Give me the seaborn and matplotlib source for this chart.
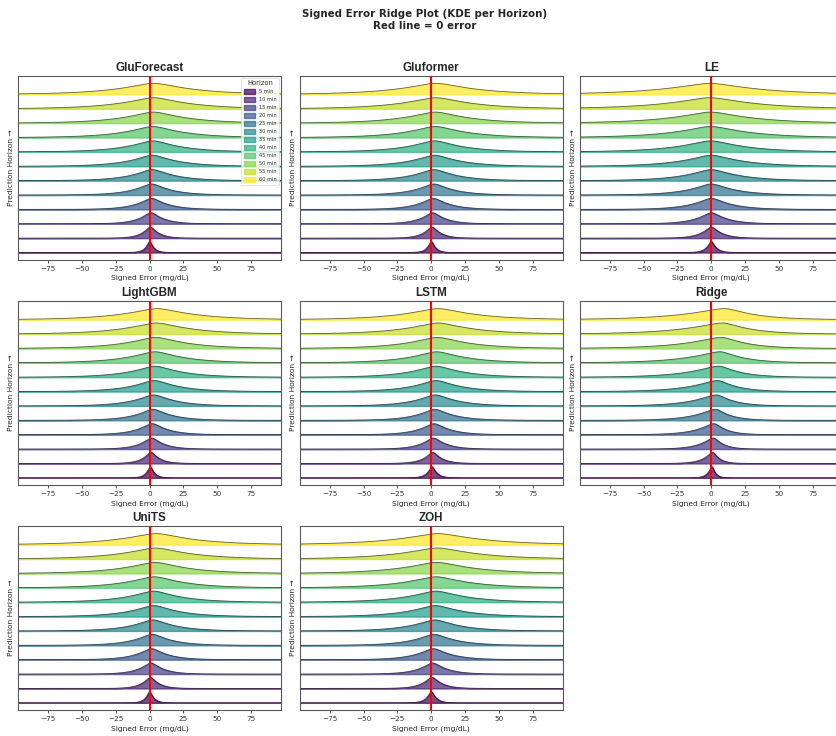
import numpy as np
import pandas as pd
import matplotlib
matplotlib.use("Agg")
import matplotlib.pyplot as plt
import seaborn as sns

# ---------------- data ----------------
models = ["GluForecast", "Gluformer", "LE", "LightGBM", "LSTM", "Ridge", "UniTS", "ZOH"]
horizons = [5, 10, 15, 20, 25, 30, 35, 40, 45, 50, 55, 60]

# peak location of each horizon's error density (mg/dL)
gluforecast_loc = [0, 0.5, 1, 1.5, 1.5, 2, 2, 2.5, 2.5, 3, 3, 3]
gluformer_loc = [0, 0.5, 1, 1.5, 2, 2, 2.5, 2.5, 3, 3, 3.5, 3.5]
le_loc = [0, 0, 0, 0, 0, 0, 0, -0.5, -0.5, -0.5, -1, -1]
lightgbm_loc = [0.5, 1, 1.5, 2, 2.5, 3, 3.5, 4, 4, 4.5, 5, 5.5]
lstm_loc = [0.5, 1, 1.5, 2, 2.5, 3, 3.5, 3.5, 4, 4.5, 5, 5]
ridge_loc = [0.5, 1, 1.5, 2, 3, 3.7, 4.5, 5.5, 6.5, 7.5, 8.5, 10]
units_loc = [0, 0.5, 1, 1.5, 2, 2.5, 3, 3, 3.5, 4, 4.5, 5]
zoh_loc = [0, 0.5, 1, 1.5, 2, 2.5, 3, 3.5, 3.5, 4, 4.5, 5]

# spread of the left / right flank of each density (mg/dL)
gluforecast_left = [3, 6.2, 9.2, 11.9, 14.3, 16.8, 18.9, 21.1, 23.3, 25.4, 27.8, 30]
gluforecast_right = [3, 6.2, 9.2, 11.9, 14.3, 16.8, 18.9, 21.1, 23.3, 25.4, 27.8, 30]
gluformer_left = [3, 6.4, 9.4, 12.2, 14.8, 17.3, 19.5, 21.8, 24, 26.2, 28.8, 31]
gluformer_right = [3, 6.4, 9.4, 12.2, 14.8, 17.3, 19.5, 21.8, 24, 26.2, 28.8, 31]
le_left = [3.5, 7.6, 11.4, 14.9, 18, 21.1, 23.9, 26.6, 29.4, 32.1, 35.2, 38]
le_right = [3.5, 7.6, 11.4, 14.9, 18, 21.1, 23.9, 26.6, 29.4, 32.1, 35.2, 38]
lightgbm_left = [3, 6.1, 9, 11.6, 13.9, 16.3, 18.3, 20.4, 22.5, 24.6, 26.9, 29]
lightgbm_right = [3, 6.1, 9, 11.6, 13.9, 16.3, 18.3, 20.4, 22.5, 24.6, 26.9, 29]
lstm_left = [3.5, 6.6, 9.4, 11.9, 14.2, 16.5, 18.5, 20.6, 22.6, 24.7, 27, 29]
lstm_right = [3.5, 6.6, 9.4, 11.9, 14.2, 16.5, 18.5, 20.6, 22.6, 24.7, 27, 29]
ridge_left = [3, 6.6, 9.9, 12.9, 15.6, 18.3, 20.7, 23.1, 25.5, 27.9, 30.6, 33]
ridge_right = [2.5, 4.8, 7, 8.9, 10.7, 12.5, 14, 15.6, 17.1, 18.7, 20.4, 22]
units_left = [3, 6.3, 9.3, 12.1, 14.6, 17.1, 19.3, 21.5, 23.8, 26, 28.5, 31]
units_right = [3, 6.2, 9.2, 11.9, 14.3, 16.8, 18.9, 21.1, 23.3, 25.4, 27.8, 29]
zoh_left = [3.5, 7.2, 10.5, 13.6, 16.3, 19.1, 21.5, 23.9, 26.4, 28.8, 31.6, 34]
zoh_right = [3.5, 7.2, 10.5, 13.6, 16.3, 19.1, 21.5, 23.9, 26.4, 28.8, 31.6, 34]

xtick_values = [-75, -50, -25, 0, 25, 50, 75]

params = {
    "GluForecast": (gluforecast_loc, gluforecast_left, gluforecast_right),
    "Gluformer": (gluformer_loc, gluformer_left, gluformer_right),
    "LE": (le_loc, le_left, le_right),
    "LightGBM": (lightgbm_loc, lightgbm_left, lightgbm_right),
    "LSTM": (lstm_loc, lstm_left, lstm_right),
    "Ridge": (ridge_loc, ridge_left, ridge_right),
    "UniTS": (units_loc, units_left, units_right),
    "ZOH": (zoh_loc, zoh_left, zoh_right),
}

# ---------------- drawing ----------------
sns.set_style("white")
plt.rcParams["font.family"] = ["DejaVu Sans"]

W, H = 836, 736
fig = plt.figure(figsize=(W / 100, H / 100), dpi=100)

cmap = matplotlib.colormaps["viridis"]
colors = [cmap(v) for v in np.linspace(0, 1, len(horizons))]
grid = np.linspace(-130, 130, 1300)
ROUND = 0.25
HEIGHT = 0.77

lefts = [18.3, 300.0, 580.0]
tops = [75.7, 301.0, 526.0]
pw, ph = 262.5, 184.0

for k, model in enumerate(models):
    r, c = divmod(k, 3)
    ax = fig.add_axes([lefts[c] / W, 1 - (tops[r] + ph) / H, pw / W, ph / H])
    locs, sl, sr = params[model]
    for i, h in enumerate(horizons):
        d = grid - locs[i]
        s = np.where(d < 0, sl[i], sr[i])
        dens = np.exp(-(np.sqrt(ROUND ** 2 + (d / s) ** 2) - ROUND))
        y = i + dens / dens.max() * HEIGHT
        ax.fill_between(grid, i, y, color=colors[i], alpha=0.7, label=f"{h} min", lw=1)
        sns.lineplot(x=grid, y=y, ax=ax, color="black", lw=0.6, alpha=0.6, legend=False)
    ax.axvline(0, color="red", lw=1.5, zorder=10)
    ax.set_xlim(-97, 97)
    ax.set_ylim(-0.5, len(horizons) + 0.3)
    ax.set_yticks([])
    ax.set_xticks(xtick_values)
    ax.tick_params(axis="x", labelsize=5.2, length=2.5, width=0.6, pad=2, direction="out",
                   bottom=True, colors="0.2")
    for sp in ax.spines.values():
        sp.set_visible(True)
        sp.set_color("0.35")
        sp.set_linewidth(0.8)
    ax.set_xlabel("Signed Error (mg/dL)", fontsize=5.4, labelpad=2, color="0.15")
    ax.set_ylabel("Prediction Horizon →", fontsize=5.4, labelpad=3, color="0.15")
    ax.set_title(model, fontsize=8.4, fontweight="bold", family=["Liberation Sans", "DejaVu Sans"],
                 pad=3.5)
    if k == 0:
        leg = ax.legend(loc="upper right", title="Horizon", fontsize=3.6, title_fontsize=4.9,
                        frameon=True, borderpad=0.5, labelspacing=0.6, handlelength=2.2,
                        handleheight=1.0, borderaxespad=0.4)
        leg.get_frame().set_linewidth(0.5)
        leg.set_zorder(20)
    else:
        lg = ax.get_legend()
        if lg is not None:
            lg.remove()

fig.suptitle("Signed Error Ridge Plot (KDE per Horizon)\nRed line = 0 error",
             x=425 / W, y=1 - 9 / H, va="top", fontsize=7.4, fontweight="bold")

fig.savefig("out.png", dpi=100)
